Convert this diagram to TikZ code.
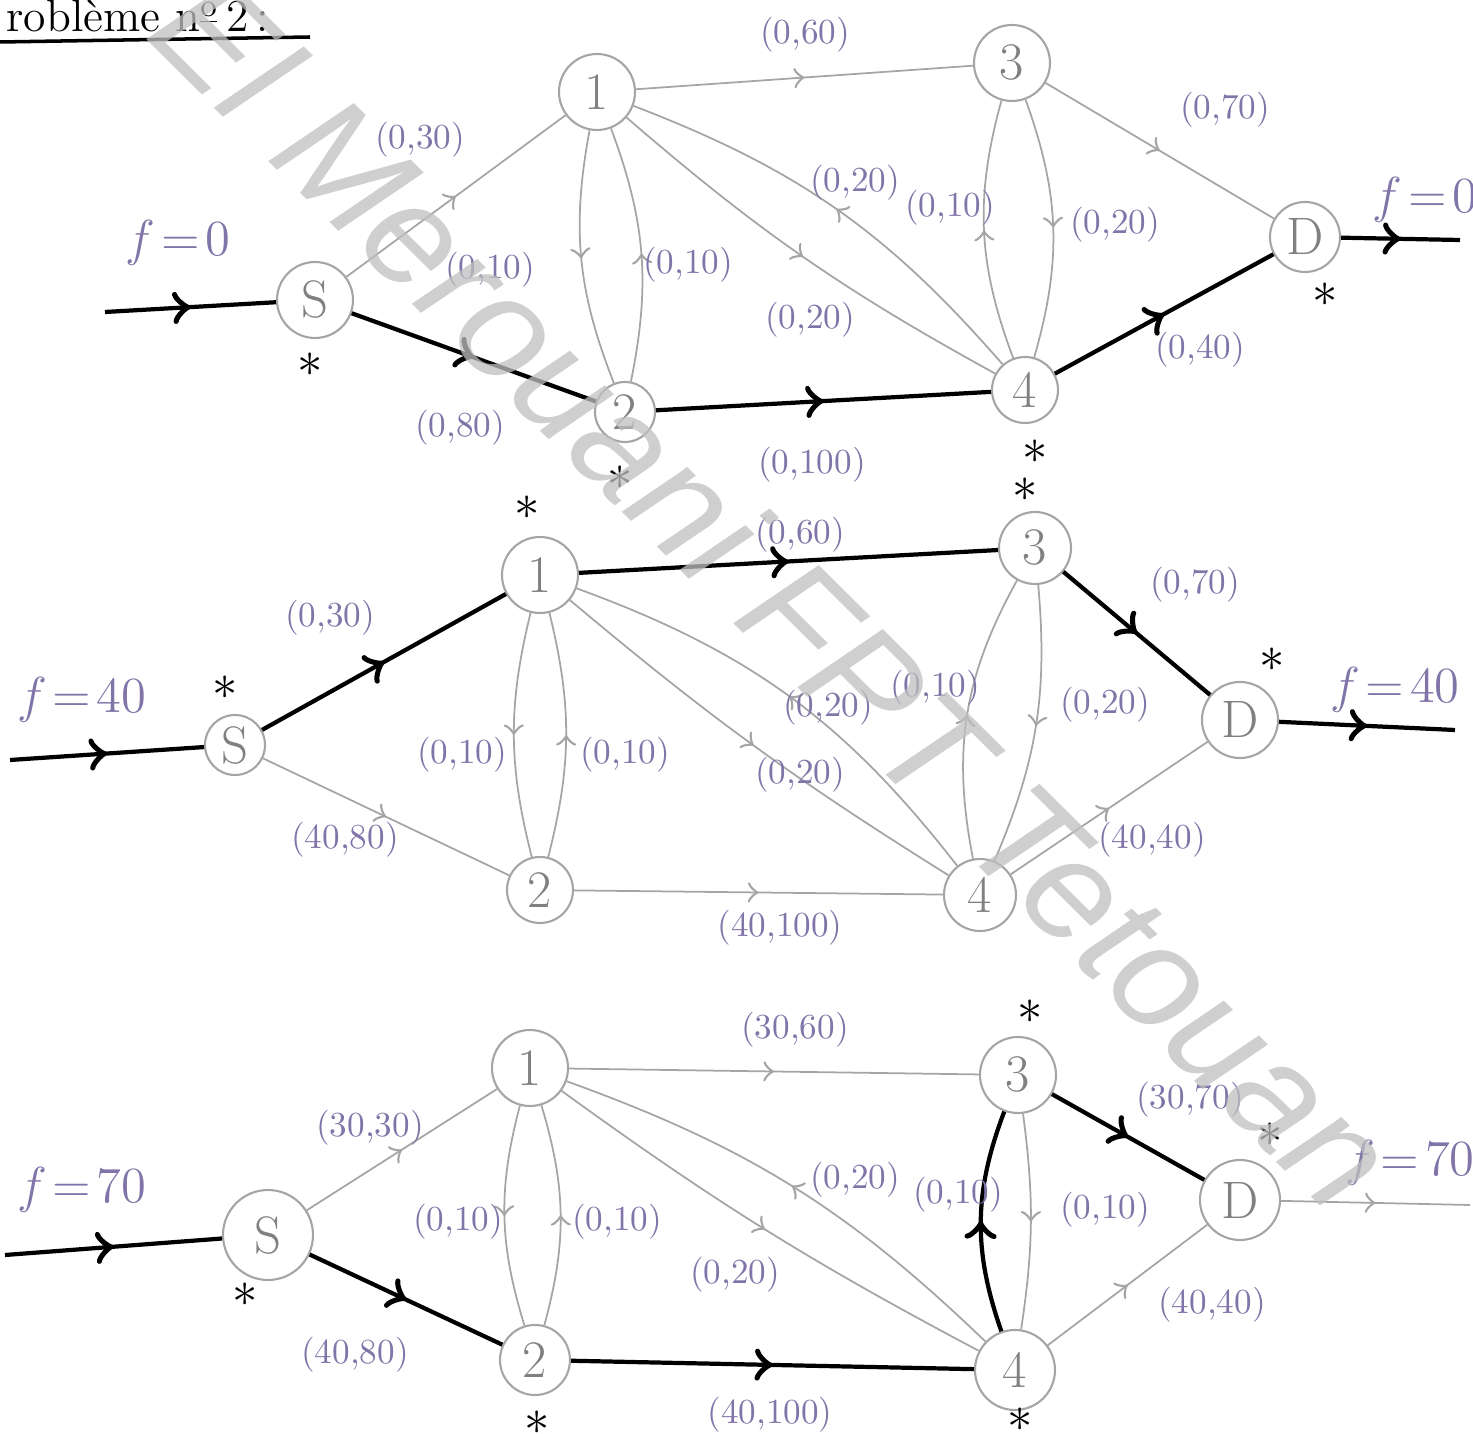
\documentclass[tikz,border=0pt]{standalone}
\usepackage{fontspec}
\usetikzlibrary{decorations.markings}
\newfontfamily\wmfont{Liberation Sans}
\definecolor{ink}{RGB}{128,116,168}
\definecolor{pencil}{RGB}{165,165,165}
\tikzset{
  vertex/.style={circle,draw=pencil,line width=.6pt,minimum size=#1,inner sep=0pt,
    text=gray,font=\fontsize{15}{16}\selectfont},
  vertex/.default=7.4mm,
  midarr/.style={postaction={decorate},decoration={markings,
    mark=at position #1 with {\arrow[scale=1.5]{>}}}},
  midarr/.default=.5,
  pen/.style={draw=pencil,line width=.5pt,midarr},
  flow/.style={draw=black,line width=1.2pt,midarr},
  val/.style={text=ink,font=\fontsize{10}{12}\selectfont},
  fval/.style={text=ink,font=\fontsize{14}{16}\selectfont},
  mk/.style={font=\Large}
}
\begin{document}
\begin{tikzpicture}[x=0.1mm,y=-0.1mm]
\useasboundingbox (0,0) rectangle (1473,1434);
% titre
\node[anchor=west,font=\fontsize{13}{15}\selectfont] (titre) at (-6,16) {roblème n\textsuperscript{\underline{o}}\,2\,:};
\draw[line width=1pt] (0,42) -- (310,37);

% ---- reseau 1 : f=0
\node[vertex=7.6mm] (s1) at (315,300) {S};
\node[vertex=7.6mm] (a1) at (597,92) {1};
\node[vertex=6mm] (b1) at (625,412) {2};
\node[vertex=7.6mm] (c1) at (1012,63) {3};
\node[vertex=6.6mm] (d1) at (1025,390) {4};
\node[vertex=7mm] (t1) at (1305,237) {D};
\coordinate (e1) at (105,312); \coordinate (o1) at (1460,240);
\draw[flow] (e1) -- (s1); \draw[flow] (t1) -- (o1);
\draw[pen] (s1) -- (a1);
\draw[flow] (s1) -- (b1);
\draw[pen] (a1) -- (c1);
\draw[pen] (a1) to[bend right=16] (b1);
\draw[pen] (b1) to[bend right=16] (a1);
\draw[pen] (a1) to[bend right=6] (d1);
\draw[pen] (d1) to[bend right=14] (a1);
\draw[pen] (d1) to[bend left=18] (c1);
\draw[pen] (c1) to[bend left=18] (d1);
\draw[pen] (c1) -- (t1);
\draw[flow] (d1) -- (t1);
\draw[flow] (b1) -- (d1);
\node[fval] (f1e) at (178,243) {$f\!=\!0$};
\node[fval] (f1o) at (1425,200) {$f\!=\!0$};
\node[val] (v1a) at (420,140) {(0,30)};
\node[val] (v1b) at (460,428) {(0,80)};
\node[val] (v1c) at (805,35) {(0,60)};
\node[val] (v1d) at (490,270) {(0,10)};
\node[val] (v1e) at (688,265) {(0,10)};
\node[val] (v1f) at (810,320) {(0,20)};
\node[val] (v1g) at (855,183) {(0,20)};
\node[val] (v1h) at (950,208) {(0,10)};
\node[val] (v1i) at (1115,225) {(0,20)};
\node[val] (v1j) at (1225,110) {(0,70)};
\node[val] (v1k) at (1200,350) {(0,40)};
\node[val] (v1l) at (812,465) {(0,100)};
\node[mk] (k1a) at (310,365) {$\ast$};
\node[mk] (k1b) at (620,478) {$\ast$};
\node[mk] (k1c) at (1035,452) {$\ast$};
\node[mk] (k1d) at (1325,295) {$\ast$};

% ---- reseau 2 : f=40
\node[vertex=6mm] (s2) at (235,745) {S};
\node[vertex=7.6mm] (a2) at (540,575) {1};
\node[vertex=6.6mm] (b2) at (540,890) {2};
\node[vertex=7.2mm] (c2) at (1035,548) {3};
\node[vertex=7.2mm] (d2) at (980,895) {4};
\node[vertex=7.6mm] (t2) at (1240,720) {D};
\coordinate (e2) at (10,760); \coordinate (o2) at (1455,730);
\draw[flow] (e2) -- (s2); \draw[flow] (t2) -- (o2);
\draw[flow] (s2) -- (a2);
\draw[pen] (s2) -- (b2);
\draw[flow] (a2) -- (c2);
\draw[pen] (a2) to[bend right=14] (b2);
\draw[pen] (b2) to[bend right=14] (a2);
\draw[pen] (a2) to[bend right=4] (d2);
\draw[pen] (d2) to[bend right=16] (a2);
\draw[pen] (d2) to[bend left=20] (c2);
\draw[pen] (c2) to[bend left=14] (d2);
\draw[flow] (c2) -- (t2);
\draw[pen] (d2) -- (t2);
\draw[pen] (b2) -- (d2);
\node[fval] (f2e) at (82,700) {$f\!=\!40$};
\node[fval] (f2o) at (1395,690) {$f\!=\!40$};
\node[val] (v2a) at (330,618) {(0,30)};
\node[val] (v2b) at (345,840) {(40,80)};
\node[val] (v2c) at (800,535) {(0,60)};
\node[val] (v2d) at (462,755) {(0,10)};
\node[val] (v2e) at (625,755) {(0,10)};
\node[val] (v2f) at (800,775) {(0,20)};
\node[val] (v2g) at (828,708) {(0,20)};
\node[val] (v2h) at (935,688) {(0,10)};
\node[val] (v2i) at (1105,705) {(0,20)};
\node[val] (v2j) at (1195,585) {(0,70)};
\node[val] (v2k) at (1152,840) {(40,40)};
\node[val] (v2l) at (780,928) {(40,100)};
\node[mk] (k2a) at (225,688) {$\ast$};
\node[mk] (k2b) at (527,508) {$\ast$};
\node[mk] (k2c) at (1025,490) {$\ast$};
\node[mk] (k2d) at (1272,660) {$\ast$};

% ---- reseau 3 : f=70
\node[vertex=9mm] (s3) at (268,1235) {S};
\node[vertex=7.6mm] (a3) at (530,1068) {1};
\node[vertex=7mm] (b3) at (535,1360) {2};
\node[vertex=7.6mm] (c3) at (1018,1075) {3};
\node[vertex=8mm] (d3) at (1015,1370) {4};
\node[vertex=8mm] (t3) at (1240,1200) {D};
\coordinate (e3) at (5,1255); \coordinate (o3) at (1470,1205);
\draw[flow] (e3) -- (s3); \draw[pen] (t3) -- (o3);
\draw[pen] (s3) -- (a3);
\draw[flow] (s3) -- (b3);
\draw[pen] (a3) -- (c3);
\draw[pen] (a3) to[bend right=16] (b3);
\draw[pen] (b3) to[bend right=16] (a3);
\draw[pen] (a3) to[bend right=4] (d3);
\draw[pen] (d3) to[bend right=12] (a3);
\draw[flow] (d3) to[bend left=20] (c3);
\draw[pen] (c3) to[bend left=8] (d3);
\draw[flow] (c3) -- (t3);
\draw[pen] (d3) -- (t3);
\draw[flow] (b3) -- (d3);
\node[fval] (f3e) at (82,1190) {$f\!=\!70$};
\node[fval] (f3o) at (1410,1163) {$f\!=\!70$};
\node[val] (v3a) at (370,1128) {(30,30)};
\node[val] (v3b) at (355,1355) {(40,80)};
\node[val] (v3c) at (795,1030) {(30,60)};
\node[val] (v3d) at (458,1222) {(0,10)};
\node[val] (v3e) at (617,1222) {(0,10)};
\node[val] (v3f) at (735,1275) {(0,20)};
\node[val] (v3g) at (855,1180) {(0,20)};
\node[val] (v3h) at (958,1195) {(0,10)};
\node[val] (v3i) at (1105,1210) {(0,10)};
\node[val] (v3j) at (1190,1100) {(30,70)};
\node[val] (v3k) at (1212,1305) {(40,40)};
\node[val] (v3l) at (770,1415) {(40,100)};
\node[mk] (k3a) at (245,1295) {$\ast$};
\node[mk] (k3b) at (537,1423) {$\ast$};
\node[mk] (k3c) at (1020,1420) {$\ast$};
\node[mk] (k3d) at (1030,1012) {$\ast$};
\node[mk] (k3e) at (1270,1135) {$\ast$};

% filigrane
\node[rotate=-44.8,text=gray!50,opacity=.75,font=\wmfont\itshape\fontsize{42}{48}\selectfont] (wm) at (775,590) {El Merouani FPT Tetouan};
\end{tikzpicture}
\end{document}
